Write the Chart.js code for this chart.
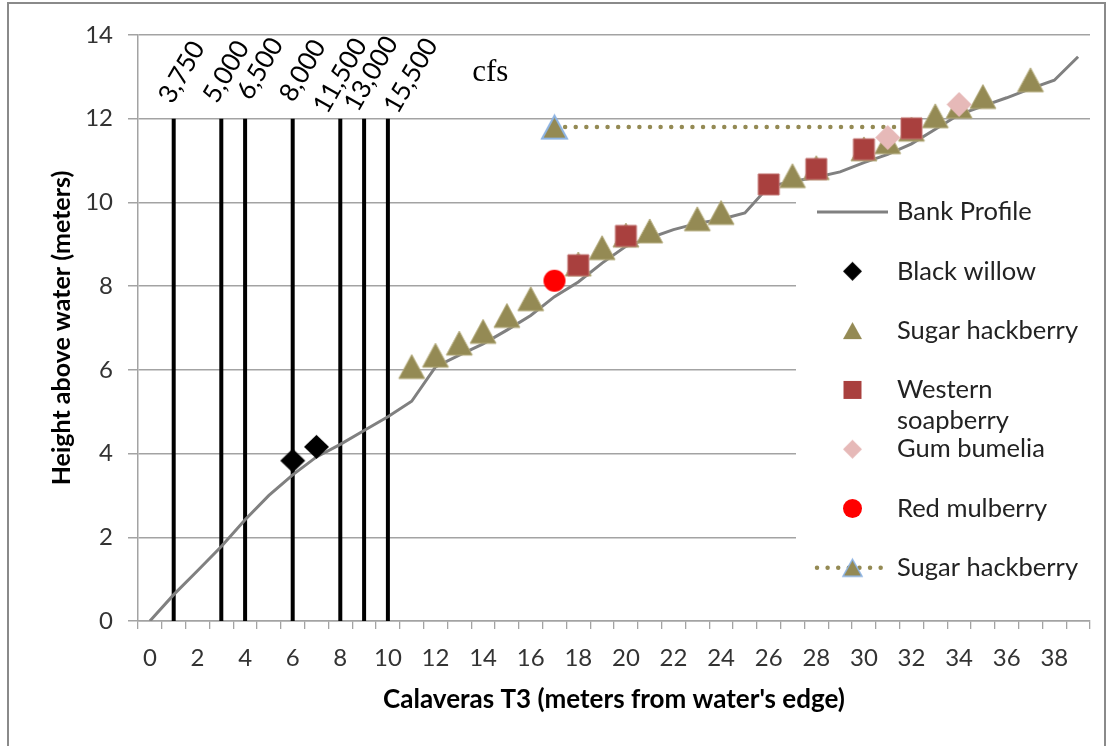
<!DOCTYPE html>
<html>
<head>
<meta charset="utf-8">
<script src="https://cdn.jsdelivr.net/npm/chart.js@4.4.0/dist/chart.umd.min.js"></script>
<style>
  html, body { margin: 0; padding: 0; background: #fff; }
  #wrap { position: relative; width: 1112px; height: 746px; overflow: hidden; }
  #frame { position: absolute; left: 7px; top: 2px; width: 1099px; height: 780px; border: 2px solid #8a8a8a; box-sizing: border-box; }
  #c { position: absolute; left: 0; top: 0; }
</style>
</head>
<body>
<div id="wrap">
  <div id="frame"></div>
  <canvas id="c" width="1112" height="746"></canvas>
</div>
<script>
// --- data ---
const distance = [0,1,2,3,4,5,6,7,8,9,10,11,12,13,14,15,16,17,18,19,20,21,22,23,24,25,26,27,28,29,30,31,32,33,34,35,36,37,38,39];
const bankProfile = [0,0.63,1.2,1.78,2.42,3.0,3.49,3.92,4.22,4.55,4.88,5.25,6.07,6.35,6.62,6.95,7.3,7.75,8.1,8.55,8.95,9.15,9.35,9.5,9.6,9.75,10.38,10.5,10.6,10.73,10.95,11.15,11.4,11.75,12.1,12.3,12.5,12.72,12.92,13.48];

const flowX = [1, 3, 4, 6, 8, 9, 10];
const flowLabels = ['3,750', '5,000', '6,500', '8,000', '11,500', '13,000', '15,500'];
const flowTop = 12;

const willowX = [6, 7];
const willowY = [3.83, 4.16];
const hackX = [11,12,13,14,15,16,18,19,20,21,23,24,27,28,30,31,32,33,34,35,37];
const hackY = [6.08,6.35,6.64,6.92,7.30,7.70,8.53,8.92,9.22,9.32,9.61,9.76,10.64,10.83,11.28,11.45,11.75,12.07,12.3,12.53,12.93];
const soapX = [18, 20, 26, 28, 30, 32];
const soapY = [8.5, 9.2, 10.43, 10.8, 11.27, 11.77];
const bumeliaX = [31, 34];
const bumeliaY = [11.55, 12.34];
const mulberryX = [17];
const mulberryY = [8.13];
const hack2X = [17, 32];
const hack2Y = [11.8, 11.8];

const yTicks = [0, 2, 4, 6, 8, 10, 12, 14];

const FONT = 'Lato, "Open Sans", sans-serif';
const OLIVE = '#948a54';

// hand-placed label nudges (px) for the rotated flow labels, relative to the line top
const labelNudgeX = [8, 5, 15, 10, 0, 7, 23];
const labelNudgeY = [-46.5, -47, -50, -48, -43, -45, -43];

function pts(xs, ys) { return xs.map((x, i) => ({ x: x, y: ys[i] })); }

// marker bitmaps, centred on their bounding box like the spreadsheet markers
function makeMarker(shape, w, h, fill, stroke, lw) {
    const pad = 3;
    const c = document.createElement('canvas');
    c.width = Math.round(w + pad * 2);
    c.height = Math.round(h + pad * 2);
    const g = c.getContext('2d');
    const cx = c.width / 2, cy = c.height / 2;
    g.beginPath();
    if (shape === 'triangle') {
        g.moveTo(cx, cy - h / 2); g.lineTo(cx + w / 2, cy + h / 2); g.lineTo(cx - w / 2, cy + h / 2); g.closePath();
    } else if (shape === 'diamond') {
        g.moveTo(cx, cy - h / 2); g.lineTo(cx + w / 2, cy); g.lineTo(cx, cy + h / 2); g.lineTo(cx - w / 2, cy); g.closePath();
    } else if (shape === 'square') {
        g.rect(cx - w / 2, cy - h / 2, w, h);
    } else {
        g.arc(cx, cy, w / 2, 0, Math.PI * 2);
    }
    g.fillStyle = fill; g.fill();
    if (stroke) { g.lineWidth = lw; g.strokeStyle = stroke; g.lineJoin = 'miter'; g.stroke(); }
    return c;
}

const mk = {
    willow:   makeMarker('diamond', 25, 24, '#000000'),
    hack:     makeMarker('triangle', 26, 24, OLIVE, '#b3aa7a', 1),
    soap:     makeMarker('square', 21, 21, '#a9403e', '#c0706e', 1),
    bumelia:  makeMarker('diamond', 25, 25, '#e6b9b8'),
    mulberry: makeMarker('circle', 22, 22, '#ff0000'),
    hack2:    makeMarker('triangle', 25, 23, OLIVE, '#8eb4e3', 2)
};
const mkSmall = {
    willow:   makeMarker('diamond', 19, 19, '#000000'),
    hack:     makeMarker('triangle', 19, 17, OLIVE),
    soap:     makeMarker('square', 18, 18, '#a9403e'),
    bumelia:  makeMarker('diamond', 19, 19, '#e6b9b8'),
    mulberry: makeMarker('circle', 19, 19, '#ff0000'),
    hack2:    makeMarker('triangle', 19, 17, OLIVE, '#8eb4e3', 1.5)
};

const flowSets = flowX.map((x, i) => ({
    label: flowLabels[i] + ' cfs',
    flowLabel: flowLabels[i],
    flowIdx: i,
    data: [{ x: x, y: 0 }, { x: x, y: flowTop }],
    showLine: true,
    borderColor: '#000',
    borderWidth: 4,
    pointRadius: 0,
    order: 20
}));

const datasets = flowSets.concat([
    { label: 'Bank Profile', legend: 0, data: pts(distance, bankProfile), showLine: true,
      borderColor: '#808080', borderWidth: 3, pointRadius: 0, order: 10 },
    { label: 'Sugar hackberry', legend: 6, data: pts(hack2X, hack2Y), showLine: true,
      borderColor: OLIVE, borderWidth: 4.5, borderDash: [0.01, 10.6], borderCapStyle: 'round',
      pointStyle: mk.hack2, pointRadius: [10, 0], smallMarker: mkSmall.hack2, order: 9 },
    { label: 'Black willow', legend: 1, data: pts(willowX, willowY), showLine: false,
      pointStyle: mk.willow, pointRadius: 10, smallMarker: mkSmall.willow, order: 8 },
    { label: 'Sugar hackberry', legend: 2, data: pts(hackX, hackY), showLine: false,
      pointStyle: mk.hack, pointRadius: 10, smallMarker: mkSmall.hack, order: 7 },
    { label: 'Western soapberry', legend: 3, data: pts(soapX, soapY), showLine: false,
      pointStyle: mk.soap, pointRadius: 10, smallMarker: mkSmall.soap, order: 6 },
    { label: 'Gum bumelia', legend: 4, data: pts(bumeliaX, bumeliaY), showLine: false,
      pointStyle: mk.bumelia, pointRadius: 10, smallMarker: mkSmall.bumelia, order: 5 },
    { label: 'Red mulberry', legend: 5, data: pts(mulberryX, mulberryY), showLine: false,
      pointStyle: mk.mulberry, pointRadius: 10, smallMarker: mkSmall.mulberry, order: 4 }
]);

// rotated flow labels, "cfs" note and the legend box over the plot
const overlayPlugin = {
    id: 'overlay',
    afterDraw(chart) {
        const ctx = chart.ctx;
        const xs = chart.scales.x, ys = chart.scales.y;

        ctx.save();
        ctx.font = '26px ' + FONT;
        ctx.fillStyle = '#000';
        ctx.textAlign = 'center';
        ctx.textBaseline = 'middle';
        chart.data.datasets.forEach((ds, i) => {
            if (!ds.flowLabel) return;
            const top = chart.getDatasetMeta(i).data[1];
            ctx.save();
            ctx.translate(top.x + labelNudgeX[ds.flowIdx], top.y + labelNudgeY[ds.flowIdx]);
            ctx.rotate(-60 * Math.PI / 180);
            ctx.fillText(ds.flowLabel, 0, 0);
            ctx.restore();
        });

        ctx.font = '31px "Liberation Serif", "DejaVu Serif", serif';
        ctx.fillText('cfs', xs.getPixelForValue(14.3), ys.getPixelForValue(13.1));

        // legend
        const box = { x: 796, y: 191, w: 300, h: 410 };
        ctx.fillStyle = '#fff';
        ctx.fillRect(box.x, box.y, box.w, box.h);

        const items = chart.data.datasets.filter(d => d.legend !== undefined)
            .sort((a, b) => a.legend - b.legend);
        const x0 = 817, x1 = 888, textX = 897, y0 = 212, step = 59.3;
        ctx.font = '25.5px ' + FONT;
        ctx.textAlign = 'left';
        ctx.textBaseline = 'middle';
        items.forEach((d, k) => {
            const y = y0 + k * step;
            if (d.showLine) {
                ctx.save();
                ctx.strokeStyle = d.borderColor;
                ctx.lineWidth = d.borderWidth;
                ctx.lineCap = d.borderCapStyle || 'butt';
                ctx.setLineDash(d.borderDash || []);
                ctx.beginPath(); ctx.moveTo(x0, y); ctx.lineTo(x1, y); ctx.stroke();
                ctx.restore();
            }
            if (d.smallMarker) {
                const m = d.smallMarker;
                ctx.drawImage(m, (x0 + x1) / 2 - m.width / 2, y - m.height / 2);
            }
            ctx.fillStyle = '#222';
            // simple word wrap
            const words = d.label.split(' ');
            const lines = [];
            let cur = '';
            words.forEach(w => {
                const t = cur ? cur + ' ' + w : w;
                if (ctx.measureText(t).width > 192 && cur) { lines.push(cur); cur = w; } else cur = t;
            });
            lines.push(cur);
            lines.forEach((ln, j) => ctx.fillText(ln, textX, y + j * 31));
        });
        ctx.restore();
    }
};

const GRID = '#a3a3a3';

new Chart(document.getElementById('c'), {
    type: 'scatter',
    data: { datasets: datasets },
    plugins: [overlayPlugin],
    options: {
        responsive: false,
        animation: false,
        layout: { padding: { top: 35, right: 22, bottom: 0, left: 0 } },
        plugins: { legend: { display: false }, tooltip: { enabled: false } },
        scales: {
            x: {
                type: 'linear',
                min: -0.5, max: 39.5,
                afterBuildTicks: s => { s.ticks = distance.map(v => ({ value: v })); },
                afterFit: s => { s.height = 125; },
                ticks: {
                    autoSkip: false, maxRotation: 0, padding: 15,
                    color: '#333', font: { family: FONT, size: 24 },
                    callback: v => (v % 2 === 0 ? String(v) : '')
                },
                grid: { offset: true, drawOnChartArea: false, drawTicks: true, tickLength: 8, color: GRID, lineWidth: 1.3 },
                border: { color: GRID, width: 1.5 },
                title: {
                    display: true, text: "Calaveras T3 (meters from water's edge)",
                    color: '#000', font: { family: FONT, size: 26, weight: 'bold' },
                    padding: { top: 0, bottom: 31 }
                }
            },
            y: {
                min: 0, max: 14,
                afterBuildTicks: s => { s.ticks = yTicks.map(v => ({ value: v })); },
                afterFit: s => { s.width = 138; },
                ticks: { padding: 15, color: '#333', font: { family: FONT, size: 24 } },
                grid: { color: GRID, lineWidth: 1.5, tickLength: 10 },
                border: { color: GRID, width: 1.5 },
                title: {
                    display: true, text: 'Height above water (meters)',
                    color: '#000', font: { family: FONT, size: 25, weight: 'bold' },
                    padding: { top: 47, bottom: 0 }
                }
            }
        }
    }
});
</script>
</body>
</html>
